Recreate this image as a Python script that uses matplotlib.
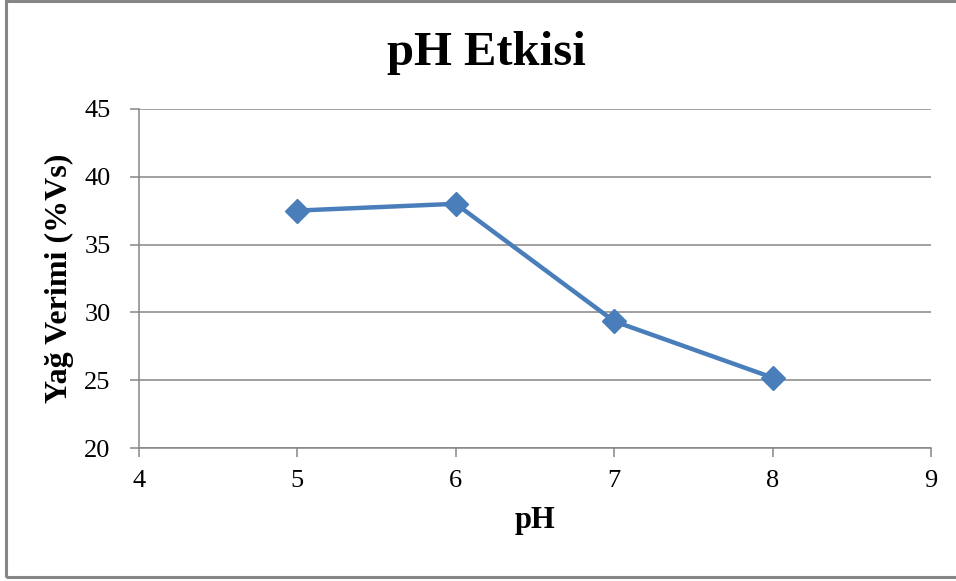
from matplotlib import pyplot as plt
from matplotlib.patches import Rectangle

plt.rcParams['font.family'] = ['Liberation Serif', 'DejaVu Serif']

ph = [5, 6, 7, 8]
yag_verimi = [37.5, 38.0, 29.35, 25.2]

x_ticks = [4, 5, 6, 7, 8, 9]
y_ticks = [20, 25, 30, 35, 40, 45]

grey = '#868686'
blue = '#4A7EBB'

fig = plt.figure(figsize=(9.56, 5.81), dpi=100)
ax = fig.add_axes([139 / 956, 1 - 448.3 / 581, (931 - 139) / 956, (448.3 - 108.7) / 581])

# outer chart frame
fig.patches.append(Rectangle((6 / 956, 4 / 581), 1.0, 1 - 5 / 581, transform=fig.transFigure,
                             fill=False, edgecolor=grey, linewidth=2.2))

ax.plot(ph, yag_verimi, color=blue, linewidth=3.2, marker='D', markersize=12,
        markerfacecolor=blue, markeredgecolor=blue, zorder=3)

ax.set_xlim(4, 9)
ax.set_ylim(20, 45)
ax.set_xticks(x_ticks)
ax.set_yticks(y_ticks)
ax.yaxis.grid(True, color=grey, linewidth=1.1)
ax.set_axisbelow(True)

for side in ['top', 'right']:
    ax.spines[side].set_visible(False)
for side in ['left', 'bottom']:
    ax.spines[side].set_color(grey)
    ax.spines[side].set_linewidth(1.1)

ax.tick_params(axis='both', direction='out', length=6.5, width=1.1, color=grey, labelsize=19)
ax.tick_params(axis='y', pad=14)
ax.tick_params(axis='x', pad=9)

ax.set_xlabel('pH', fontsize=22, fontweight='bold', labelpad=10)
ax.set_ylabel('Yağ Verimi (%Vs)', fontsize=23, fontweight='bold', labelpad=7)
fig.text(486 / 956, 1 - 65 / 581, 'pH Etkisi', fontsize=35, fontweight='bold',
         ha='center', va='baseline')

fig.savefig('out.png', dpi=100)
